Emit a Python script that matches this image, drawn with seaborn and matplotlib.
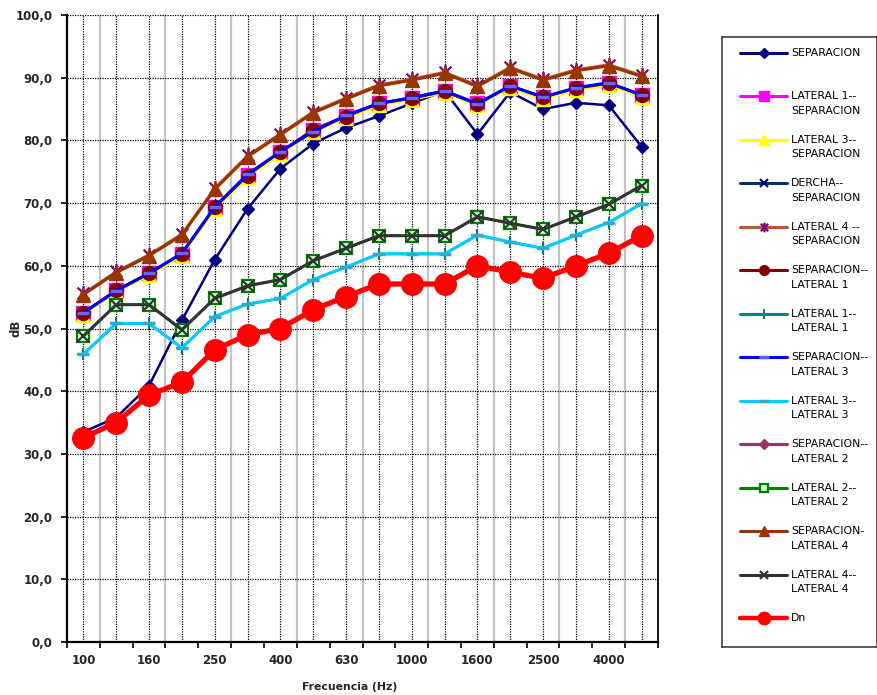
import numpy as np
import matplotlib
matplotlib.use("Agg")
import matplotlib.pyplot as plt
from matplotlib.path import Path
import seaborn as sns

# Third-octave bands (Hz)
freqs = ["100", "125", "160", "200", "250", "315", "400", "500", "630",
         "800", "1000", "1250", "1600", "2000", "2500", "3150", "4000", "5000"]

# Levels in dB per measurement position
separacion = [33.5, 35.8, 40.9, 51.3, 61.0, 69.1, 75.5, 79.5, 82.0,
              83.9, 85.9, 87.9, 81.0, 87.7, 85.0, 86.0, 85.6, 79.0]
lateral1_separacion = [52.5, 56.1, 58.8, 61.9, 69.3, 74.5, 78.1, 81.7, 83.9,
                       85.9, 86.8, 87.9, 85.9, 88.7, 86.9, 88.3, 89.1, 87.3]
lateral3_separacion = [52.2, 55.8, 58.5, 61.6, 69.0, 74.2, 77.8, 81.4, 83.6,
                       85.6, 86.5, 87.6, 85.6, 88.4, 86.6, 88.0, 88.8, 87.0]
derecha_separacion = [52.5, 56.1, 58.8, 61.9, 69.3, 74.5, 78.1, 81.7, 83.9,
                      85.9, 86.8, 87.9, 85.9, 88.7, 86.9, 88.3, 89.1, 87.3]
lateral4_separacion = [55.6, 59.1, 61.8, 65.1, 72.4, 77.6, 81.1, 84.6, 86.8,
                       88.9, 89.8, 90.9, 88.8, 91.7, 89.8, 91.3, 92.1, 90.4]
separacion_lateral1 = [52.5, 56.1, 58.8, 61.9, 69.3, 74.4, 78.2, 81.7, 83.8,
                       85.9, 86.7, 87.8, 85.8, 88.7, 86.9, 88.3, 89.1, 87.3]
lateral1_lateral1 = [45.9, 50.8, 50.8, 46.9, 51.9, 53.9, 54.8, 57.8, 59.8,
                     61.9, 61.9, 61.9, 64.9, 63.8, 62.8, 64.9, 66.9, 69.9]
separacion_lateral3 = [52.5, 56.0, 58.8, 62.0, 69.4, 74.6, 78.2, 81.4, 84.0,
                       85.9, 86.8, 87.9, 85.8, 88.7, 86.9, 88.4, 89.2, 87.2]
lateral3_lateral3 = [45.9, 50.8, 50.8, 46.9, 51.9, 53.9, 54.8, 57.8, 59.8,
                     61.9, 61.9, 61.9, 64.9, 63.8, 62.8, 64.9, 66.9, 69.9]
separacion_lateral2 = [52.5, 56.1, 58.8, 61.9, 69.3, 74.5, 78.1, 81.7, 83.9,
                       85.9, 86.8, 87.9, 85.9, 88.7, 86.9, 88.3, 89.1, 87.3]
lateral2_lateral2 = [48.8, 53.8, 53.8, 49.8, 54.8, 56.8, 57.8, 60.8, 62.8,
                     64.8, 64.8, 64.8, 67.8, 66.8, 65.8, 67.8, 69.8, 72.8]
separacion_lateral4 = [55.4, 58.9, 61.6, 64.9, 72.2, 77.4, 80.9, 84.4, 86.6,
                       88.7, 89.6, 90.7, 88.6, 91.5, 89.6, 91.1, 91.9, 90.2]
lateral4_lateral4 = [48.8, 53.8, 53.8, 49.8, 54.8, 56.8, 57.8, 60.8, 62.8,
                     64.8, 64.8, 64.8, 67.8, 66.8, 65.8, 67.8, 69.8, 72.8]
dn = [32.6, 35.0, 39.4, 41.4, 46.6, 49.0, 50.0, 53.0, 55.1,
      57.1, 57.1, 57.1, 60.0, 59.0, 58.0, 60.0, 62.0, 64.8]

series_names = ["SEPARACION", "LATERAL 1--\nSEPARACION", "LATERAL 3--\nSEPARACION",
                "DERCHA--\nSEPARACION", "LATERAL 4 --\nSEPARACION",
                "SEPARACION--\nLATERAL 1", "LATERAL 1--\nLATERAL 1",
                "SEPARACION--\nLATERAL 3", "LATERAL 3--\nLATERAL 3",
                "SEPARACION--\nLATERAL 2", "LATERAL 2--\nLATERAL 2",
                "SEPARACION-\nLATERAL 4", "LATERAL 4--\nLATERAL 4", "Dn"]
series_values = [separacion, lateral1_separacion, lateral3_separacion,
                 derecha_separacion, lateral4_separacion, separacion_lateral1,
                 lateral1_lateral1, separacion_lateral3, lateral3_lateral3,
                 separacion_lateral2, lateral2_lateral2, separacion_lateral4,
                 lateral4_lateral4, dn]

y_ticks = [0, 10, 20, 30, 40, 50, 60, 70, 80, 90, 100]

# star marker: diagonal cross plus a vertical stroke
star = Path([(-1, -1), (1, 1), (-1, 1), (1, -1), (0, -1.3), (0, 1.3)],
            [Path.MOVETO, Path.LINETO, Path.MOVETO, Path.LINETO, Path.MOVETO, Path.LINETO])

# line/marker style per series (plot size, legend size, drawing order)
styles = [
    dict(color="#000080", lw=1.8, marker="D", ms=6.5, mfc="#000080", mec="#000080", mew=1, lms=5, z=3),
    dict(color="#FF00FF", lw=1.8, marker="s", ms=9.5, mfc="#FF00FF", mec="#FF00FF", mew=1, lms=6.5, z=3),
    dict(color="#FFFF00", lw=1.8, marker="^", ms=9.5, mfc="#FFFF00", mec="#FFFF00", mew=1, lms=6.5, z=3),
    dict(color="#003366", lw=1.8, marker="x", ms=7, mfc="#000080", mec="#000080", mew=1.5, lms=6, z=2.9),
    dict(color="#C0582A", lw=1.8, marker=star, ms=11, mfc="#800080", mec="#800080", mew=1.6, lms=7, z=3),
    dict(color="#800000", lw=1.8, marker="o", ms=10, mfc="#800000", mec="#800000", mew=1, lms=7, z=3),
    dict(color="#008080", lw=1.8, marker="+", ms=9, mfc="#008080", mec="#008080", mew=1.5, lms=7, z=3),
    dict(color="#0000FF", lw=2.2, marker="_", ms=8, mfc="#6666FF", mec="#6666FF", mew=2.5, lms=7, z=3),
    dict(color="#00CCFF", lw=2.2, marker="_", ms=8, mfc="#33AACC", mec="#33AACC", mew=2.5, lms=7, z=3),
    dict(color="#993366", lw=1.8, marker="D", ms=5, mfc="#993366", mec="#993366", mew=1, lms=5, z=2.9),
    dict(color="#008000", lw=1.8, marker="s", ms=9, mfc="#CCFFCC", mec="#008000", mew=1.6, lms=6, z=3),
    dict(color="#993300", lw=2.2, marker="^", ms=10.5, mfc="#993300", mec="#993300", mew=1, lms=7, z=3),
    dict(color="#333333", lw=2.2, marker="x", ms=8, mfc="#333333", mec="#333333", mew=1.6, lms=6, z=3),
    dict(color="#FF0000", lw=3.8, marker="o", ms=15.5, mfc="#FF0000", mec="#FF0000", mew=1, lms=9, z=3),
]

sns.set_style("white")
plt.rcParams["font.family"] = ["DejaVu Sans"]

W, H = 877, 695
fig = plt.figure(figsize=(W / 100, H / 100), dpi=100)
ax = fig.add_axes([67 / W, 53 / H, 591 / W, 627 / H])

pos = np.arange(len(freqs))

for vals, st in zip(series_values, styles):
    sns.lineplot(x=pos, y=vals, ax=ax, color=st["color"], linewidth=st["lw"],
                 marker=st["marker"], markersize=st["ms"],
                 markerfacecolor=st["mfc"], markeredgecolor=st["mec"],
                 markeredgewidth=st["mew"], errorbar=None, zorder=st["z"])

# axes limits and ticks
ax.set_xlim(-0.5, len(freqs) - 0.5)
ax.set_ylim(0, 100)
ax.set_xticks(np.arange(-0.5, len(freqs), 1.0))
ax.set_xticklabels([])
ax.set_xticks(pos, [f if i % 2 == 0 else "" for i, f in enumerate(freqs)], minor=True)
ax.set_yticks(y_ticks, [f"{v:.1f}".replace(".", ",") for v in y_ticks])

ax.tick_params(axis="x", which="major", direction="out", length=4, width=1.2, color="black", bottom=True)
ax.tick_params(axis="x", which="minor", length=0, pad=9, labelsize=8.5)
ax.tick_params(axis="y", direction="out", length=4, width=1.2, color="black", pad=6.5,
               labelsize=8.5, left=True)
for lab in ax.get_xticklabels(minor=True) + ax.get_yticklabels():
    lab.set_fontweight("bold")

# grid: dotted black at values / band centres, grey at alternate band edges
dot = (0, (1, 1))
ax.yaxis.grid(True, color="black", linestyle=dot, linewidth=0.9)
ax.xaxis.grid(True, which="minor", color="black", linestyle=dot, linewidth=0.9)
ax.xaxis.grid(False, which="major")
ax.vlines(np.arange(0.5, len(freqs), 2.0), 0, 100, color="#C4C4C4", linewidth=1.6, zorder=0.4)
ax.set_axisbelow(True)

for side in ["left", "bottom"]:
    ax.spines[side].set_color("black")
    ax.spines[side].set_linewidth(1.6)
ax.spines["right"].set_color("black")
ax.spines["right"].set_linewidth(1.3)
ax.spines["top"].set_visible(False)

ax.set_xlabel("Frecuencia (Hz)", fontsize=7.8, fontweight="bold")
ax.xaxis.set_label_coords((350 - 67) / 591, (642 - 687) / 627)
ax.xaxis.label.set_va("center")
ax.set_ylabel("dB", fontsize=8.5, fontweight="bold")
ax.yaxis.set_label_coords((23 - 67) / 591, 0.5)

# legend panel
lax = fig.add_axes([722 / W, (H - 647) / H, (877 - 722) / W, (647 - 37) / H])
lax.set_xlim(722, 877)
lax.set_ylim(647, 37)
lax.set_xticks([])
lax.set_yticks([])
for sp in lax.spines.values():
    sp.set_color("#404040")
    sp.set_linewidth(1.2)

for i, (name, st) in enumerate(zip(series_names, styles)):
    y = 52.7 + 43.5 * i
    lax.plot([740, 787], [y, y], color=st["color"], linewidth=2.2 if i != 13 else 3.2)
    lax.plot([763.5], [y], linestyle="none", marker=st["marker"], markersize=st["lms"],
             markerfacecolor=st["mfc"], markeredgecolor=st["mec"], markeredgewidth=st["mew"])
    for j, line in enumerate(name.split("\n")):
        lax.text(791, y + 14.5 * j, line, fontsize=7.8, va="center", ha="left", color="black")

fig.savefig("out.png", dpi=100)
